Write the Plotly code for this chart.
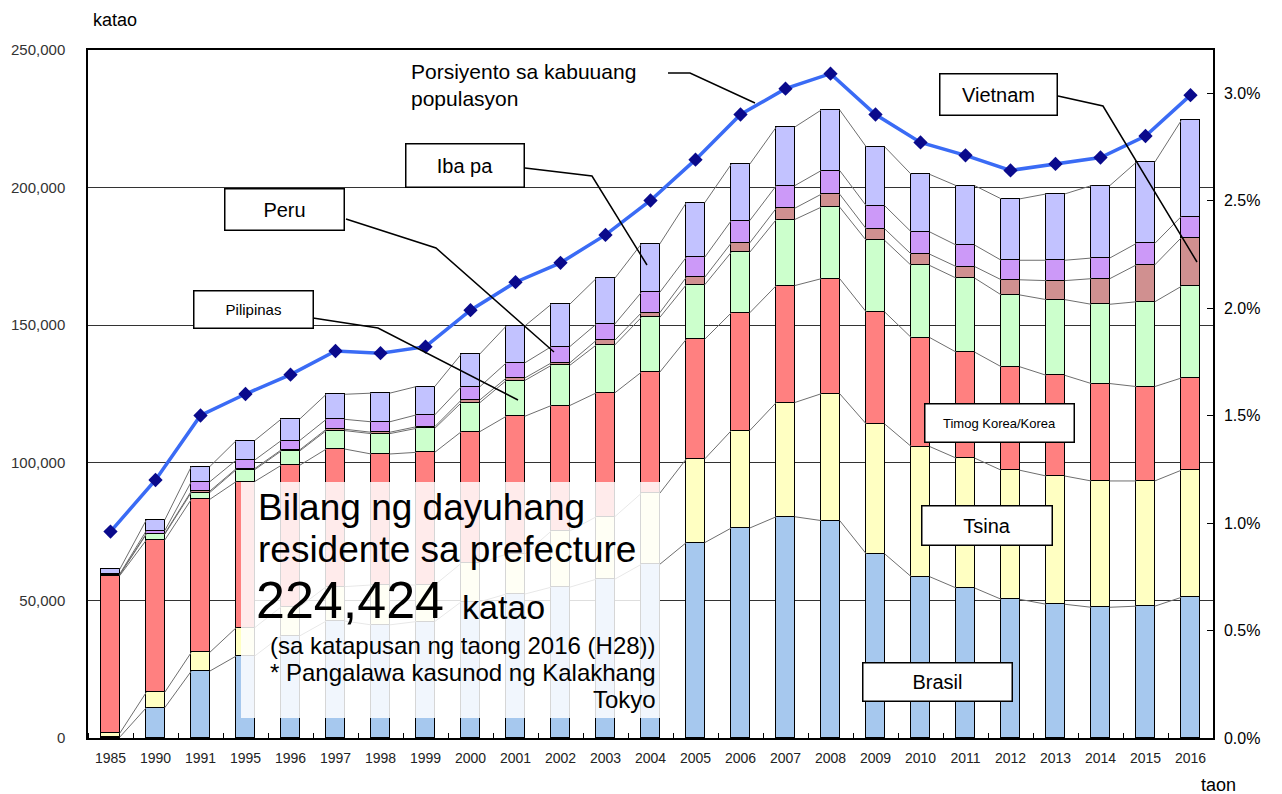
import plotly.graph_objects as go

years = ["1985", "1990", "1991", "1995", "1996", "1997", "1998", "1999", "2000", "2001",
         "2002", "2003", "2004", "2005", "2006", "2007", "2008", "2009", "2010", "2011",
         "2012", "2013", "2014", "2015", "2016"]

brasil = [300, 11000, 24300, 29800, 37100, 42500, 41100, 42300, 49500, 52300,
          54800, 57700, 63100, 71000, 76300, 80400, 79000, 66900, 58600, 54500,
          50400, 48600, 47500, 47900, 51100]
tsina = [1400, 5600, 6800, 10300, 10600, 12500, 14500, 13300, 14000, 14500,
         20400, 22700, 25800, 30400, 35400, 41500, 46100, 47200, 47300, 47200,
         46900, 46600, 45900, 45500, 46200]
korea = [57300, 55300, 55600, 53100, 51400, 50000, 47600, 48200, 47800, 50100,
         45600, 45000, 44000, 43500, 42800, 42500, 41800, 40700, 39600, 38500,
         37600, 36600, 35400, 34300, 33500]
pilipinas = [300, 2100, 2500, 4300, 5200, 6700, 7400, 8700, 10500, 13000,
             14600, 17400, 19900, 19800, 22000, 24000, 26000, 26000, 26200, 26900,
             26100, 27500, 28800, 30800, 33300]
vietnam = [100, 300, 500, 400, 400, 500, 500, 600, 1000, 900,
           900, 1700, 1700, 2700, 3400, 4100, 4700, 4200, 4100, 4200,
           5500, 6900, 9300, 13400, 17700]
peru = [200, 1000, 3400, 3100, 3400, 3600, 3800, 4300, 4800, 5500,
        5900, 5900, 7400, 7300, 8100, 8200, 8600, 8400, 8100, 7800,
        7100, 7400, 7500, 7800, 7700]
iba_pa = [1700, 3900, 5500, 7100, 7800, 9100, 10400, 10300, 11900, 13400,
          15400, 16600, 17600, 19800, 20500, 21300, 22000, 21400, 20900, 21600,
          22300, 24100, 26300, 29500, 34900]
porsiyento = [0.96, 1.20, 1.50, 1.60, 1.69, 1.80, 1.79, 1.82, 1.99, 2.12,
              2.21, 2.34, 2.50, 2.69, 2.90, 3.02, 3.09, 2.90, 2.77, 2.71,
              2.64, 2.67, 2.70, 2.80, 2.99]

series = [
    ("Brasil", brasil, "#A6C8EE"),
    ("Tsina", tsina, "#FFFFC2"),
    ("Timog Korea/Korea", korea, "#FF8080"),
    ("Pilipinas", pilipinas, "#CCFFCC"),
    ("Vietnam", vietnam, "#D09090"),
    ("Peru", peru, "#CC99F8"),
    ("Iba pa", iba_pa, "#C2C2FF"),
]

n = len(years)
xs_cat = list(range(n))
BW = 0.41

fig = go.Figure()

# connector lines between bars
cum = [0] * n
for name, vals, col in series:
    cum = [c + v for c, v in zip(cum, vals)]
    lx, ly = [], []
    for i in range(n - 1):
        lx += [i + BW / 2, i + 1 - BW / 2, None]
        ly += [cum[i], cum[i + 1], None]
    fig.add_trace(go.Scatter(x=lx, y=ly, mode="lines",
                             line=dict(color="#6e6e6e", width=1),
                             hoverinfo="skip", showlegend=False))

for name, vals, col in series:
    fig.add_trace(go.Bar(x=xs_cat, y=vals, name=name, width=BW,
                         marker=dict(color=col, line=dict(color="black", width=1.5)),
                         showlegend=False))

fig.add_trace(go.Scatter(x=xs_cat, y=[p / 100 for p in porsiyento], yaxis="y2",
                         mode="lines+markers", showlegend=False,
                         line=dict(color="#3A6BF5", width=3.5),
                         marker=dict(symbol="diamond", size=11, color="#0A0A8C")))

L, R, T, B = 88, 1213, 50, 738
W, H = R - L, B - T


def px(x):
    return (x - L) / W


def py(y):
    return (B - y) / H


shapes = []
annotations = []

# overlay box
shapes.append(dict(type="rect", xref="paper", yref="paper",
                   x0=px(241), x1=px(660), y0=py(718), y1=py(482),
                   fillcolor="rgba(255,255,255,0.84)", line=dict(width=0), layer="above"))

# leader lines
leaders = [
    [(668, 73), (690, 73), (755, 103)],
    [(1058, 96), (1103, 106), (1197, 262)],
    [(525, 168), (592, 176), (647, 265)],
    [(346, 219), (436, 248), (554, 352)],
    [(313, 318), (378, 328), (518, 400)],
]
for pts in leaders:
    path = "M " + " L ".join(f"{px(a):.5f},{py(b):.5f}" for a, b in pts)
    shapes.append(dict(type="path", xref="paper", yref="paper", path=path,
                       line=dict(color="black", width=1.5), layer="above"))

FONT = "Arial, Liberation Sans, sans-serif"

# labelled boxes
boxes = [
    ("Vietnam", 998, 94.5, 118, 42, 20),
    ("Iba pa", 464.5, 166, 119, 44, 20),
    ("Peru", 284, 210, 120, 42, 20),
    ("Pilipinas", 253, 309, 120, 38, 15),
    ("Timog Korea/Korea", 999, 422.5, 150, 39, 13),
    ("Tsina", 986.5, 525, 131, 40, 20),
    ("Brasil", 937, 681.5, 150, 39, 20),
]
for txt, cx, cy, w, h, fs in boxes:
    annotations.append(dict(xref="paper", yref="paper", x=px(cx), y=py(cy),
                            xanchor="center", yanchor="middle", showarrow=False,
                            text=txt, width=w - 4, height=h - 4, borderpad=1,
                            bgcolor="white", bordercolor="black", borderwidth=1.5,
                            font=dict(family=FONT, size=fs, color="black")))

annotations.append(dict(xref="paper", yref="paper", x=px(409), y=py(85),
                        xanchor="left", yanchor="middle", align="left", showarrow=False,
                        text="Porsiyento sa kabuuang<br>populasyon",
                        font=dict(family=FONT, size=21, color="black")))

# overlay texts
overlay_txt = [
    ("Bilang ng dayuhang", 256, 507, 37, "left"),
    ("residente sa prefecture", 256, 549, 37, "left"),
    ("224,424", 254, 600, 52, "left"),
    ("katao", 460, 607, 34, "left"),
    ("(sa katapusan ng taong 2016 (H28))", 658, 645, 24, "right"),
    ("* Pangalawa kasunod ng Kalakhang", 658, 672, 24, "right"),
    ("Tokyo", 658, 699, 24, "right"),
]
for txt, x0, cy, fs, anc in overlay_txt:
    annotations.append(dict(xref="paper", yref="paper", x=px(x0), y=py(cy),
                            xanchor=anc, yanchor="middle", showarrow=False, text=txt,
                            font=dict(family=FONT, size=fs, color="black")))

# axis titles
annotations.append(dict(xref="paper", yref="paper", x=px(91), y=py(20),
                        xanchor="left", yanchor="middle", showarrow=False, text="katao",
                        font=dict(family=FONT, size=18, color="black")))
annotations.append(dict(xref="paper", yref="paper", x=px(1199), y=py(785),
                        xanchor="left", yanchor="middle", showarrow=False, text="taon",
                        font=dict(family=FONT, size=18, color="black")))

fig.update_layout(
    width=1282, height=794,
    margin=dict(l=L, r=1282 - R, t=T, b=794 - B),
    paper_bgcolor="white", plot_bgcolor="white",
    barmode="stack", bargap=0, showlegend=False,
    font=dict(family=FONT, color="black"),
    xaxis=dict(range=[-0.5, n - 0.5], tickmode="array", tickvals=xs_cat, ticktext=years,
               showgrid=False, zeroline=False, showline=True, linecolor="black",
               linewidth=1.5, mirror=True, ticks="", ticklabelstandoff=6,
               tickfont=dict(family=FONT, size=14, color="#222"),
               minor=dict(ticks="inside", ticklen=5, tickcolor="black",
                          tickmode="linear", tick0=0.5, dtick=1, showgrid=False)),
    yaxis=dict(range=[0, 250000], tickmode="linear", tick0=0, dtick=50000,
               tickformat=",", showgrid=True, gridcolor="#333", gridwidth=1,
               zeroline=False, showline=True, linecolor="black", linewidth=1.5,
               ticks="", ticklabelstandoff=18,
               tickfont=dict(family=FONT, size=15, color="#333")),
    yaxis2=dict(overlaying="y", side="right", range=[0, 0.032],
                tickmode="array", tickvals=[0, 0.005, 0.01, 0.015, 0.02, 0.025, 0.03],
                tickformat=".1%", showgrid=False, zeroline=False,
                showline=True, linecolor="black", linewidth=1.5,
                ticks="inside", ticklen=6, tickcolor="black", ticklabelstandoff=6,
                tickfont=dict(family=FONT, size=16, color="black")),
    shapes=shapes, annotations=annotations,
)

fig.write_html("out.html", config={"displayModeBar": False})
with open("out.html", "r", encoding="utf-8") as f:
    html = f.read()
html = html.replace("<body>", '<body style="margin:0;overflow:hidden">', 1)
with open("out.html", "w", encoding="utf-8") as f:
    f.write(html)
